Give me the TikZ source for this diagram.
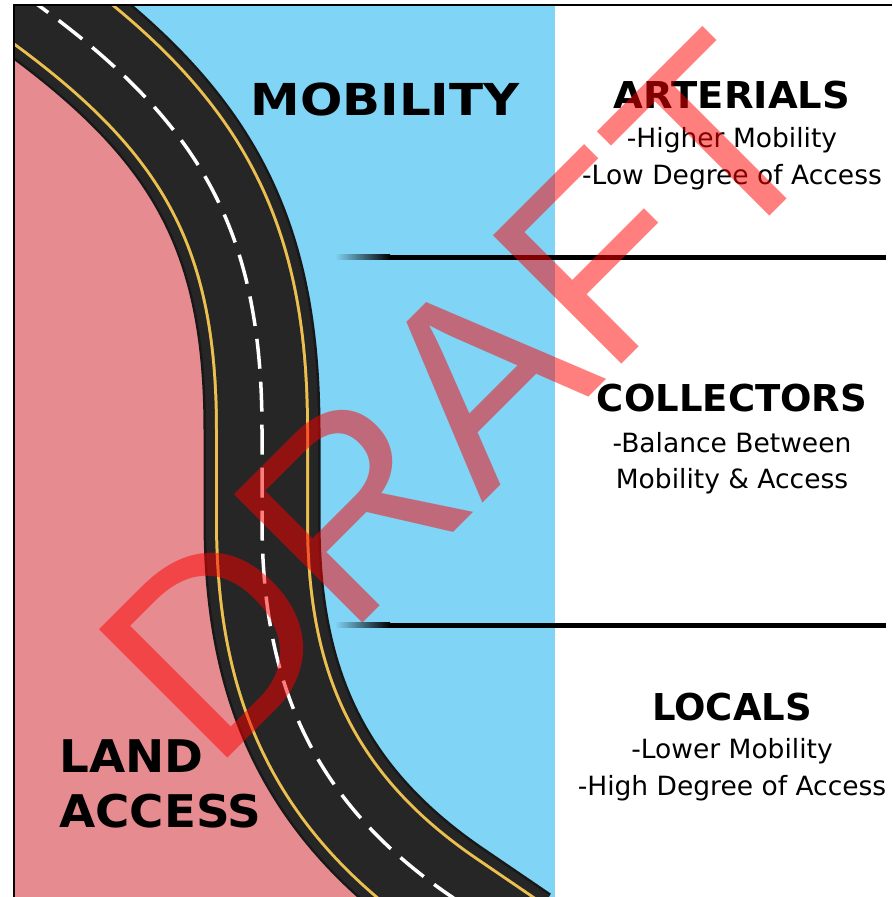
\documentclass[tikz,border=0pt]{standalone}
\usepackage{fontspec}
\setmainfont{DejaVu Sans}
\newfontfamily\draftfont{Liberation Sans}

\definecolor{skyblue}{RGB}{128,212,245}
\definecolor{landpink}{RGB}{230,140,145}
\definecolor{asphalt}{RGB}{38,38,38}
\definecolor{asphaltedge}{RGB}{24,24,24}
\definecolor{laneyellow}{RGB}{235,192,80}

% centre line of the road, top left to bottom right
\newcommand{\roadpath}{(-11,-30) -- (38,5)
    .. controls (200,123) and (262,230) .. (262,430) -- (262,520)
    .. controls (262,670) and (303,796) .. (452,897) -- (518,942)}

\begin{document}
\begin{tikzpicture}[x=1pt, y=-1pt,
    heading/.style={font=\fontsize{37}{37}\selectfont\bfseries, anchor=base, inner sep=0pt},
    subline/.style={font=\fontsize{26.5}{26.5}\selectfont, anchor=base, inner sep=0pt},
    bigword/.style={font=\fontsize{45}{45}\selectfont\bfseries, anchor=base west, inner sep=0pt, xscale=1.04},
    divider/.style={left color=skyblue, right color=black}]
    \useasboundingbox (0,0) rectangle (892,897);

    \begin{scope}
        \clip (14,5) rectangle (555,897);
        \fill[skyblue] (14,5) rectangle (555,897);
        \fill[landpink] \roadpath -- (-11,942) -- cycle;
        \draw[asphaltedge, line width=117pt] \roadpath;
        \draw[asphalt, line width=112pt] \roadpath;
        \draw[laneyellow, line width=94pt] \roadpath;
        \draw[asphalt, line width=88pt] \roadpath;
        \draw[white, line width=3.5pt, dash pattern=on 30pt off 13pt] \roadpath;
    \end{scope}

    \draw[line width=1.5pt] (14,897) -- (14,5) -- (892,5);

    % separators between the classes
    \shade[divider] (335,254.5) rectangle (390,259.5);
    \fill (390,254.5) rectangle (886,259.5);
    \shade[divider] (335,622.5) rectangle (390,627.5);
    \fill (390,622.5) rectangle (886,627.5);

    \node[bigword, font=\fontsize{44}{44}\selectfont\bfseries, anchor=base, xscale=1.09] (mobility) at (385,115) {MOBILITY};
    \node[bigword] (land) at (59,772) {LAND};
    \node[bigword] (access) at (59,827) {ACCESS};

    \node[heading, xscale=1.04] (arterials) at (732,108) {ARTERIALS};
    \node[subline] (art-a) at (732,147) {-Higher Mobility};
    \node[subline] (art-b) at (732,184) {-Low Degree of Access};

    \node[heading] (collectors) at (732,411) {COLLECTORS};
    \node[subline] (col-a) at (732,452) {-Balance Between};
    \node[subline] (col-b) at (732,488) {Mobility \& Access};

    \node[heading] (locals) at (732,720) {LOCALS};
    \node[subline] (loc-a) at (732,758) {-Lower Mobility};
    \node[subline] (loc-b) at (732,795) {-High Degree of Access};

    \node[rotate=45, anchor=base, inner sep=0pt, text=red, opacity=0.5, text opacity=0.5,
        font=\draftfont\fontsize{264}{264}\selectfont] (draft) at (524,462) {DRAFT};
\end{tikzpicture}
\end{document}
